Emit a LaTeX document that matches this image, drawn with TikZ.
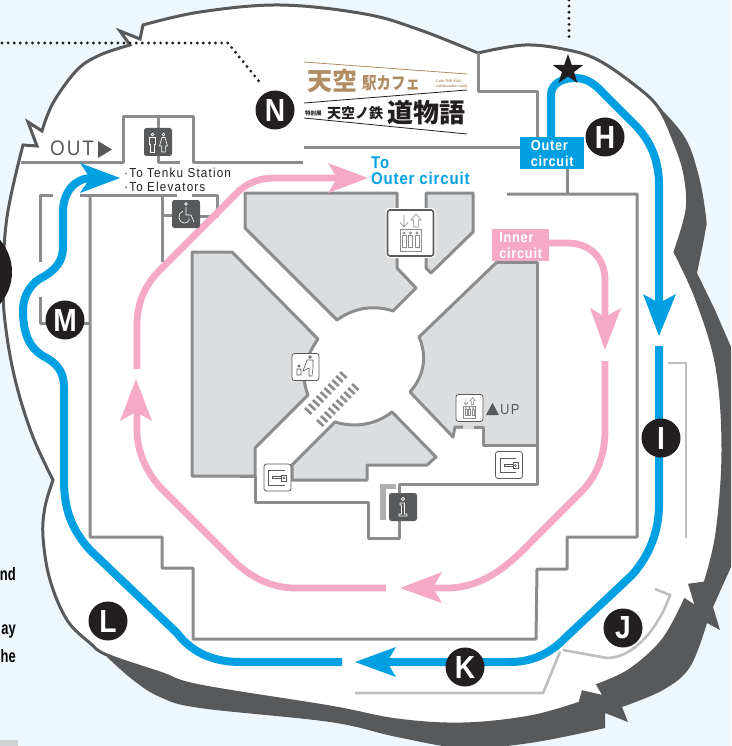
\documentclass[tikz,border=0pt]{standalone}
\usepackage{fontspec}
\setmainfont{Liberation Sans}
\newfontfamily\condfont[FakeStretch=0.88]{Liberation Sans}
\newfontfamily\narrowfont[FakeStretch=0.72]{Liberation Sans}
\newfontfamily\spacedcond[FakeStretch=0.88,LetterSpace=5]{Liberation Sans}
\newfontfamily\widefont[FakeStretch=0.9,LetterSpace=9]{Liberation Sans}
\newfontfamily\cjk{Noto Sans CJK JP}
\newfontfamily\cjknarrow[FakeStretch=0.85]{Noto Sans CJK JP}
\usetikzlibrary{shapes.geometric}
\definecolor{seabg}{HTML}{EEF7FD}
\definecolor{coast}{HTML}{58595B}
\definecolor{wallgray}{HTML}{8A8C8E}
\definecolor{blockgray}{HTML}{DCDDDE}
\definecolor{lightline}{HTML}{BCBEC0}
\definecolor{outerblue}{HTML}{00A0E2}
\definecolor{innerpink}{HTML}{F5A9C6}
\definecolor{inkblack}{HTML}{231F20}
\definecolor{logobrown}{HTML}{B08C62}
\tikzset{
  wall/.style={draw=wallgray,line width=3pt,line join=round},
  block/.style={wall,fill=blockgray},
  spur/.style={draw=lightline,line width=2.6pt},
  outerpath/.style={draw=outerblue,line width=8pt},
  innerpath/.style={draw=innerpink,line width=6.8pt},
  dots/.style={draw=inkblack,line width=3.2pt,line cap=round,dash pattern=on 0pt off 6.1pt},
  stop/.style={circle,fill=inkblack,text=white,minimum size=39pt,inner sep=0pt,
    font=\condfont\fontsize{32}{32}\selectfont\bfseries},
  cutoff/.style={anchor=base east,inner sep=0pt,font=\narrowfont\fontsize{18}{18}\selectfont\bfseries},
  tag/.style={text=white,anchor=north west,minimum height=32pt,inner sep=0pt,
    align=left,font=\spacedcond\fontsize{14.5}{16}\selectfont\bfseries},
  darkicon/.style={rounded corners=2.5pt,fill=coast,minimum size=28pt,inner sep=0pt},
  lighticon/.style={rounded corners=2.5pt,fill=white,draw=coast,line width=.8pt,minimum size=27pt,inner sep=0pt},
  glyph/.style={line width=.6pt},
  manfig/.pic={
    \draw[glyph] (0,-8.5) circle (1.4);
    \draw[glyph] (-3,-5.5) -- (3,-5.5) -- (3,1.5) -- (1.8,1.5) -- (1.8,9) -- (-1.8,9) -- (-1.8,1.5) -- (-3,1.5) -- cycle;
  },
  womanfig/.pic={
    \draw[glyph] (0,-8.5) circle (1.4);
    \draw[glyph] (-1.5,-5.5) -- (1.5,-5.5) -- (4,3) -- (1.8,3) -- (1.8,9) -- (-1.8,9) -- (-1.8,3) -- (-4,3) -- cycle;
  },
  liftfig/.pic={
    \draw[glyph] (-10.5,-4) rectangle (10.5,18);
    \foreach \px in {-6.5,0,6.5}{
      \draw[glyph] (\px,0) circle (1.1);
      \draw[glyph] (\px-2,2.5) rectangle (\px+2,14);
    }
    \draw[glyph] (-6.5,-18) -- (-6.5,-6) (-10.5,-10.5) -- (-6.5,-6) -- (-2.5,-10.5);
    \draw[glyph] (5.5,-19) -- (10.5,-13) -- (7.8,-13) -- (7.8,-6) -- (3.2,-6) -- (3.2,-13) -- (.5,-13) -- cycle;
  },
  keyfig/.pic={
    \draw[glyph] (7,-7) -- (-9,-7) -- (-9,7.5) -- (7,7.5);
    \draw[glyph] (-5,-1) -- (4,-1) -- (4,1) -- (-5,1) -- cycle;
    \draw[glyph,fill=white] (4,-2.5) rectangle (9,3.5);
    \draw[glyph] (6.5,.5) circle (1);
  }
}
\begin{document}
\begin{tikzpicture}[x=1pt,y=-1pt]
   \useasboundingbox (0,0) rectangle (731,746);
   \clip (0,0) rectangle (731,746);
   \fill[seabg] (0,0) rectangle (731,746);

   % shadow under the island
   \fill[coast] (640,88) -- plot[smooth,tension=.6] coordinates {(640,88) (682,133) (698,173) (706,217) (705,233) (697,273)}
      -- (715,310) -- (731,347) -- (745,347) -- (745,567) -- (731,567) -- (713,607) -- (720,630) -- (707,623)
      -- plot[smooth,tension=.6] coordinates {(707,623) (690,667) (663,690) (622,707)}
      -- (628,722) -- (605,713) -- (605,728)
      -- plot[smooth,tension=.6] coordinates {(605,728) (530,743) (463,748) (397,737) (330,722) (200,708) (160,697) (133,680) (107,657)}
      -- cycle;

   % island
   \draw[fill=white,draw=coast,line width=3pt,line join=miter]
      plot[smooth,tension=.6] coordinates {(143,25) (200,12) (280,5) (365,14) (420,30) (478,53)}
      -- plot[smooth,tension=.6] coordinates {(478,53) (525,45) (568,50) (598,60) (632,83) (658,107) (675,143) (685,175) (687,210) (675,252)}
      -- plot[smooth,tension=.6] coordinates {(675,252) (697,300) (717,367) (723,450) (717,533) (705,583)}
      -- (690,585) -- (697,608) -- (685,600)
      -- plot[smooth,tension=.6] coordinates {(685,600) (663,640) (630,670) (598,685)}
      -- (605,697) -- (583,692) -- (580,703)
      -- plot[smooth,tension=.6] coordinates {(580,703) (530,717) (463,724) (397,720) (330,707) (200,686) (160,673) (107,655) (90,643) (67,620) (50,580) (43,537) (45,507) (53,480)}
      -- plot[smooth,tension=.6] coordinates {(53,480) (33,437) (17,387) (7,337) (3,287) (7,217) (23,145)}
      -- (37,146) -- (28,122) -- (42,131)
      -- plot[smooth,tension=.6] coordinates {(42,131) (53,103) (77,70) (100,55) (130,45)}
      -- (120,31) -- (140,39) -- cycle;

   % cut off neighbours at the edges
   \fill[inkblack] (-37,272) circle (49);
   \fill[lightline!70] (0,740) rectangle (18,746);
   \node[cutoff] (cutnd) at (16,580) {nd};
   \node[cutoff] (cutay) at (16,634) {ay};
   \node[cutoff] (cuthe) at (16,662) {he};

   % dotted leaders
   \draw[dots] (2,43) -- (228,43) -- (262,85);
   \draw[dots] (569,0) -- (569,42);

   % grey blocks
   \draw[block] (245,193) -- (397,193) -- (397,268) -- (416,288) -- (393,311)
      .. controls (375,305) and (355,307) .. (337,320) -- (245,228) -- cycle;
   \draw[block] (426,193) -- (473,193) -- (473,232) -- (431,273) -- (426,268) -- cycle;
   \draw[block] (192,252) -- (232,252) -- (318,339) .. controls (305,358) and (300,375) .. (308,395)
      -- (255,448) -- (255,476) -- (192,476) -- cycle;
   \fill[blockgray] (497,262) -- (537,262) -- (537,445) -- (483,445) -- (483,429) -- (455,429) -- (453,437)
      -- (410,392) .. controls (425,375) and (427,355) .. (419,337) -- cycle;
   \draw[wall] (497,262) -- (537,262) -- (537,445) -- (483,445) -- (483,427) -- (474,427);
   \draw[wall] (463,427) -- (455,427) -- (453,437) -- (410,392) .. controls (425,375) and (427,355) .. (419,337) -- (497,262);
   \draw[block] (292,465) -- (335,422) .. controls (355,428) and (375,425) .. (392,412) -- (436,457)
      -- (427,465) -- (367,465) -- (367,480) -- (292,480) -- cycle;

   % walls
   \draw[wall] (21,163) -- (123,163) -- (123,117) -- (193,117) -- (193,163) -- (303,163);
   \draw[wall] (158,117) -- (158,163) -- (180,163);
   \draw[wall] (304,148) -- (520,148);
   \draw[wall] (478,53) -- (478,92) -- (537,92) -- (537,148);
   \draw[wall] (567,168) -- (567,194);
   \draw[wall] (507,194) -- (637,194) -- (637,537) -- (567,537) -- (567,569) -- (537,569) -- (536,639)
      -- (193,639) -- (193,568) -- (162,568) -- (162,537) -- (90,537) -- (90,195);
   \draw[wall] (40,262) -- (40,195) -- (53,195);
   \draw[wall] (80,195) -- (177,195);
   \draw[wall] (192,195) -- (217,195) -- (217,216) -- (200,216);
   \draw[wall] (162,195) -- (162,262);
   \draw[wall] (162,215) -- (173,215);
   \draw[wall] (40,297) -- (40,323) -- (90,323);
   \draw[wall] (255,476) -- (255,502) -- (368,502) -- (368,538) -- (399,538) -- (399,484) -- (537,484) -- (537,445);
   \draw[line width=5.5pt,draw=wallgray!70] (383,520) -- (383,486.5) -- (396,486.5);
   \draw[wall] (240,476) -- (255,476);

   % stairs
   \foreach \st in {0,...,9}{
      \draw[draw=wallgray,line width=2.6pt] ({305+\st*3.9},{408-\st*4}) -- ++(6.5,6);
      \draw[draw=wallgray,line width=2.6pt] ({317+\st*3.9},{420-\st*4}) -- ++(6.5,6);
   }

   % thin grey spurs
   \draw[spur] (668,363) -- (686,363) -- (686,538);
   \draw[spur] (655,589) -- (670,595) .. controls (660,625) and (635,658) .. (607,658) -- (563,650);
   \draw[spur] (560,652) -- (543,693) -- (355,693);

   % inner circuit
   \draw[innerpath] (549,243) -- (567,243) .. controls (590,243) and (605,258) .. (605,280) -- (605,317);
   \fill[innerpink] (605,350) -- (621,308) -- (605,317) -- (590,308) -- cycle;
   \draw[innerpath] (605,361) -- (605,430) .. controls (605,455) and (597,475) .. (583,490) -- (533,540)
      .. controls (512,562) and (485,588) .. (447,588) -- (433,588);
   \fill[innerpink] (400,588) -- (442,572) -- (433,588) -- (442,603) -- cycle;
   \draw[innerpath] (386,588) -- (295,588) .. controls (270,588) and (248,576) .. (230,557) -- (160,487)
      .. controls (145,470) and (137,450) .. (137,430) -- (137,412);
   \fill[innerpink] (136,379) -- (152,421) -- (136,412) -- (120,421) -- cycle;
   \draw[innerpath] (137,369) -- (137,325) .. controls (137,300) and (147,282) .. (163,267) -- (240,190)
      .. controls (250,182) and (260,178) .. (275,178) -- (338,178);
   \fill[innerpink] (368,178) -- (328,163) -- (337,178) -- (328,193) -- cycle;

   % outer circuit
   \draw[outerpath] (551,137) -- (551,95) .. controls (551,84) and (562,78) .. (575,78)
      .. controls (587,78) and (596,85) .. (603,93) -- (635,125) .. controls (650,140) and (659,160) .. (659,185) -- (659,303);
   \fill[outerblue] (659,336) -- (676,294) -- (659,303) -- (643,294) -- cycle;
   \draw[outerpath] (659,346) -- (659,505) .. controls (659,530) and (650,555) .. (632,575) -- (563,640)
      .. controls (548,655) and (530,662) .. (510,662) -- (387,662);
   \fill[outerblue] (355,662) -- (396,647) -- (387,662) -- (396,677) -- cycle;
   \draw[outerpath] (342,662) -- (240,662) .. controls (210,662) and (190,650) .. (177,633) -- (90,550)
      .. controls (72,530) and (64,510) .. (64,480) -- (64,387) .. controls (64,370) and (55,362) .. (43,356)
      .. controls (30,348) and (23,335) .. (23,310) .. controls (23,295) and (32,282) .. (43,277)
      .. controls (55,270) and (63,262) .. (63,247) -- (63,212) .. controls (63,192) and (75,178) .. (92,178);
   \fill[outerblue] (120,178) -- (80,163) -- (90,178) -- (80,193) -- cycle;

   % star
   \node[star,star points=5,star point ratio=2.5,fill=inkblack,minimum size=32pt,inner sep=0pt] (sky) at (568,70) {};

   % circuit tags
   \node[tag,fill=outerblue,minimum width=64pt] (outertag) at (520,137) {Outer\\circuit};
   \node[tag,fill=innerpink,minimum width=57pt] (innertag) at (492,229) {Inner\\circuit};

   % labels
   \node[anchor=base west,inner sep=0pt,text=outerblue,font=\spacedcond\fontsize{17}{17}\selectfont\bfseries] (totext) at (371,168) {To};
   \node[anchor=base west,inner sep=0pt,text=outerblue,font=\spacedcond\fontsize{17}{17}\selectfont\bfseries] (outertext) at (371,185) {Outer circuit};
   \node[anchor=base west,inner sep=0pt,text=inkblack,font=\widefont\fontsize{13}{13}\selectfont] (tenku) at (124,178) {·To Tenku Station};
   \node[anchor=base west,inner sep=0pt,text=inkblack,font=\widefont\fontsize{13}{13}\selectfont] (elev) at (124,191) {·To Elevators};
   \node[anchor=base west,inner sep=0pt,text=coast,font=\widefont\fontsize{21}{21}\selectfont] (outtext) at (50,156) {OUT};
   \fill[coast] (98,141) -- (112,149.5) -- (98,158) -- cycle;
   \node[anchor=base west,inner sep=0pt,text=coast,font=\widefont\fontsize{14.5}{14.5}\selectfont] (uptext) at (500,414) {UP};
   \fill[coast] (486,415) -- (499,415) -- (492.5,403) -- cycle;

   % icons
   \node[darkicon] (toilet) at (158,142) {};
   \pic[white] at (152.5,143) {manfig};
   \pic[white] at (163.5,143) {womanfig};
   \node[darkicon] (wheel) at (186,214) {};
   \draw[white,glyph] (186,204) circle (1.4) (186,207) -- (186,215) -- (191,215) -- (194,222);
   \draw[white,glyph] (183,211) .. controls (177,213) and (178,223) .. (184,223) .. controls (188,223) and (190,220) .. (189,218);
   \node[darkicon] (info) at (403,507) {};
   \draw[white,glyph] (403,499) circle (1.6) (400,503) -- (404.5,503) -- (404.5,514) -- (407,514) -- (407,516) -- (399,516) -- (399,514) -- (401.5,514) -- (401.5,505) -- (400,505) -- cycle;
   \node[lighticon,minimum size=46pt,line width=1.6pt,preaction={draw=white,line width=4pt}] (lift) at (410.5,233) {};
   \pic[wallgray] at (410.5,233) {liftfig};
   \node[lighticon] (liftup) at (469.5,408) {};
   \pic[wallgray,scale=.55] at (469.5,408) {liftfig};
   \node[lighticon] (family) at (305.5,367) {};
   \draw[coast,glyph] (310,357) circle (1.4) (307,360) -- (313,360) -- (313,368) -- (312,376) -- (309,376) -- (309,368) -- (303,371) -- cycle;
   \draw[coast,glyph] (299,366) circle (1.1) (297,369) -- (301,369) -- (301,375) -- (297,375) -- cycle;
   \node[lighticon] (keyleft) at (277.5,477.5) {};
   \pic[coast] at (277.5,477.5) {keyfig};
   \node[lighticon] (keyright) at (509,465) {};
   \pic[coast] at (509,465) {keyfig};

   % logo
   \draw[logobrown,line width=.8pt] (304,62) -- (467,74);
   \draw[inkblack,line width=.8pt] (304,103) -- (467,90);
   \draw[inkblack,line width=.8pt] (304,118) -- (467,134);
   \node[anchor=west,inner sep=0pt,text=logobrown,font=\cjk\bfseries\fontsize{25}{25}\selectfont] (cafea) at (307,81) {天空};
   \node[anchor=west,inner sep=0pt,text=logobrown,font=\cjknarrow\bfseries\fontsize{17}{17}\selectfont] (cafeb) at (362,83) {駅カフェ};
   \node[anchor=west,inner sep=0pt,text=logobrown,align=left,font=\fontsize{3.6}{5}\selectfont\bfseries] (cafec) at (436,84) {Cafe THE SUN\\collaboration with};
   \node[anchor=west,inner sep=0pt,text=inkblack,font=\cjk\bfseries\fontsize{5.5}{6}\selectfont] (logoa) at (305,113) {特別展};
   \node[anchor=west,inner sep=0pt,text=inkblack,font=\cjk\bfseries\fontsize{14}{14}\selectfont] (logob) at (327,113) {天空ノ鉄};
   \node[anchor=west,inner sep=0pt,text=inkblack,font=\cjk\bfseries\fontsize{26}{26}\selectfont] (logoc) at (387,113) {道物語};

   % stops
   \node[stop] (stopN) at (275,110) {N};
   \node[stop] (stopH) at (605,137) {H};
   \node[stop] (stopI) at (661,438) {I};
   \node[stop] (stopJ) at (623,628) {J};
   \node[stop] (stopK) at (465,667) {K};
   \node[stop] (stopL) at (108,621) {L};
   \node[stop] (stopM) at (65,320) {M};
\end{tikzpicture}
\end{document}
